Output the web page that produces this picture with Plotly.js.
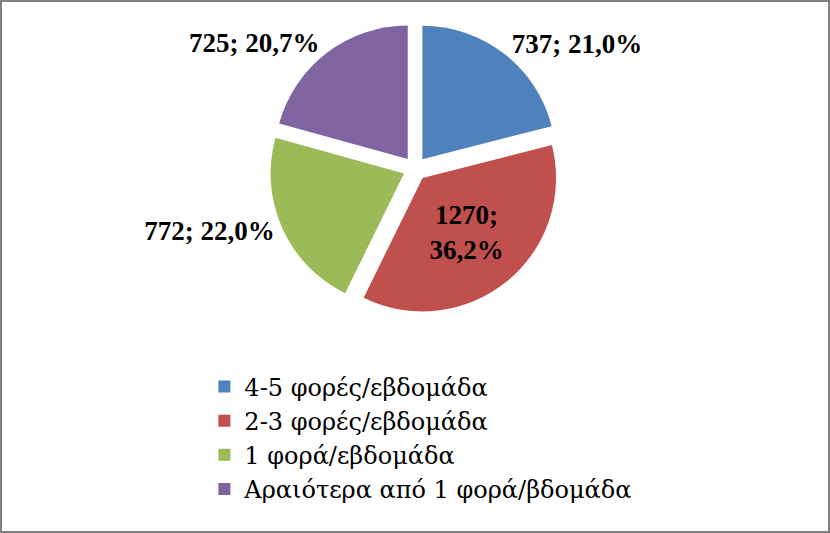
<!DOCTYPE html>
<html>
<head>
<meta charset="utf-8">
<script src="https://cdn.plot.ly/plotly-3.0.1.min.js"></script>
<style>
html,body{margin:0;padding:0;background:#fff;}
#chart{width:826px;height:529px;border:2px solid #808080;}
</style>
</head>
<body>
<div id="chart"></div>
<script>
const categories = ["4-5 φορές/εβδομάδα", "2-3 φορές/εβδομάδα", "1 φορά/εβδομάδα", "Αραιότερα από 1 φορά/βδομάδα"];
const counts = [737, 1270, 772, 725];
const colors = ["#4F81BD", "#C0504D", "#9BBB59", "#8064A2"];
const labelPositions = ["outside", "inside", "outside", "outside"];
const labelTemplates = ["%{value:d}; %{percent:.1%}", "%{value:d};<br>%{percent:.1%}", "%{value:d}; %{percent:.1%}", "%{value:d}; %{percent:.1%}"];

const serif = "Liberation Serif, Times New Roman, DejaVu Serif, serif";
const greekSerif = "DejaVu Serif, serif";

const trace = {
  type: "pie",
  labels: categories,
  values: counts,
  sort: false,
  direction: "clockwise",
  rotation: 0,
  pull: [0.09, 0.09, 0.09, 0.09],
  marker: {colors: colors, line: {width: 0}},
  textposition: labelPositions,
  texttemplate: labelTemplates,
  insidetextorientation: "horizontal",
  textfont: {family: serif, size: 27, color: "#000", weight: "bold"},
  outsidetextfont: {family: serif, size: 27, color: "#000", weight: "bold"},
  insidetextfont: {family: serif, size: 27, color: "#000", weight: "bold"},
  hoverinfo: "label+value+percent",
  domain: {x: [0.15, 0.85], y: [0.41, 0.96]}
};

const layout = {
  width: 826,
  height: 529,
  margin: {l: 0, r: 0, t: 0, b: 0},
  paper_bgcolor: "#fff",
  separators: ",.",
  showlegend: true,
  font: {family: greekSerif},
  legend: {
    x: 0.245, xanchor: "left",
    y: 0.315, yanchor: "top",
    font: {family: greekSerif, size: 24, color: "#000"},
    bgcolor: "rgba(0,0,0,0)"
  }
};

Plotly.newPlot("chart", [trace], layout, {displayModeBar: false, staticPlot: true});
</script>
</body>
</html>
